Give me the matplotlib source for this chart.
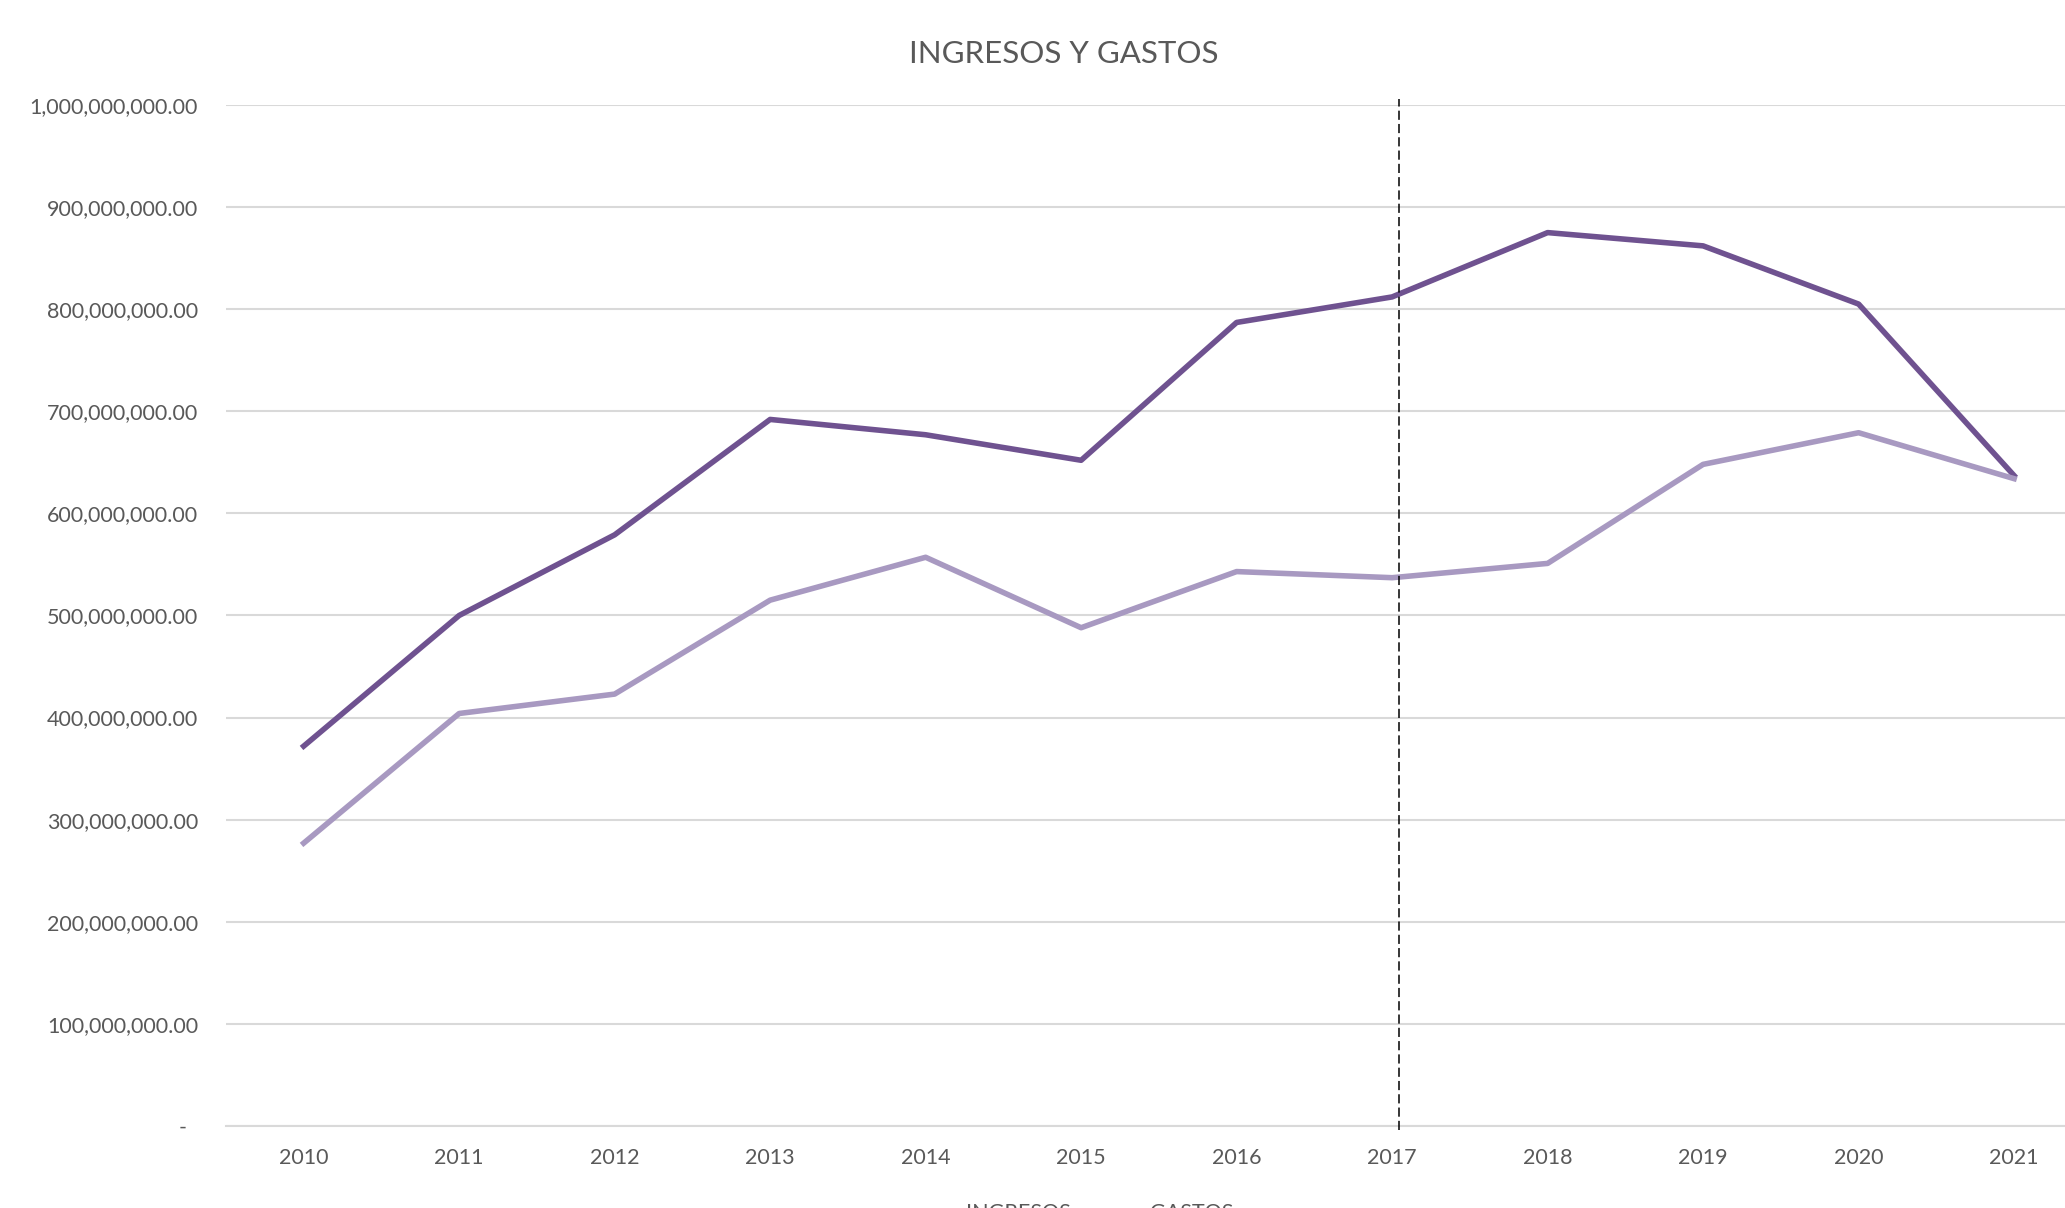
import matplotlib
matplotlib.use("Agg")
import matplotlib.pyplot as plt
from matplotlib.ticker import FuncFormatter

# Data
years = ["2010", "2011", "2012", "2013", "2014", "2015",
         "2016", "2017", "2018", "2019", "2020", "2021"]
ingresos = [372e6, 500e6, 579e6, 692e6, 677e6, 652e6,
            787e6, 812e6, 875e6, 862e6, 805e6, 637e6]
gastos = [277e6, 404e6, 423e6, 515e6, 557e6, 488e6,
          543e6, 537e6, 551e6, 648e6, 679e6, 634e6]
marker_year = "2017"

text_col = "#595959"
grid_col = "#D9D9D9"
plt.rcParams["font.family"] = ["Lato", "DejaVu Sans"]

fig = plt.figure(figsize=(20.65, 12.08), dpi=100)
ax = fig.add_axes([0.1094, 0.0679, 0.9036, 0.8452])

x = list(range(len(years)))
ax.plot(x, ingresos, color="#6F5290", lw=4, label="INGRESOS", solid_joinstyle="round")
ax.plot(x, gastos, color="#A899C1", lw=4, label="GASTOS", solid_joinstyle="round")

# vertical dashed marker (sits a touch right of the category centre)
xm = years.index(marker_year) + 0.045
ax.plot([xm, xm], [-0.004e9, 1.006e9], color="black", lw=1.1,
        linestyle=(0, (6, 2.7)), clip_on=False, zorder=5)

ax.set_xlim(-0.5, len(years) - 0.5)
ax.set_ylim(0, 1e9)
ax.set_xticks(x)
ax.set_xticklabels(years)
ax.set_yticks([i * 1e8 for i in range(11)])
ax.yaxis.set_major_formatter(FuncFormatter(lambda v, p: f"{v:,.2f}" if v > 0 else "-  "))

ax.grid(axis="y", color=grid_col, lw=1.5)
ax.set_axisbelow(True)
for s in ["top", "right", "left"]:
    ax.spines[s].set_visible(False)
ax.spines["bottom"].set_color(grid_col)
ax.spines["bottom"].set_linewidth(1.5)
ax.tick_params(axis="both", length=0, labelsize=15.5, labelcolor=text_col)
ax.tick_params(axis="y", pad=20)
ax.tick_params(axis="x", pad=16)

fig.text(0.515, 0.955, "INGRESOS Y GASTOS", ha="center", va="center",
         fontsize=22.5, color=text_col)

fig.legend(loc="upper center", bbox_to_anchor=(0.518, 0.013), ncol=2,
           frameon=False, fontsize=15.5, labelcolor=text_col, borderpad=0,
           handlelength=2, columnspacing=0.9)

fig.savefig("out.png", dpi=100)
